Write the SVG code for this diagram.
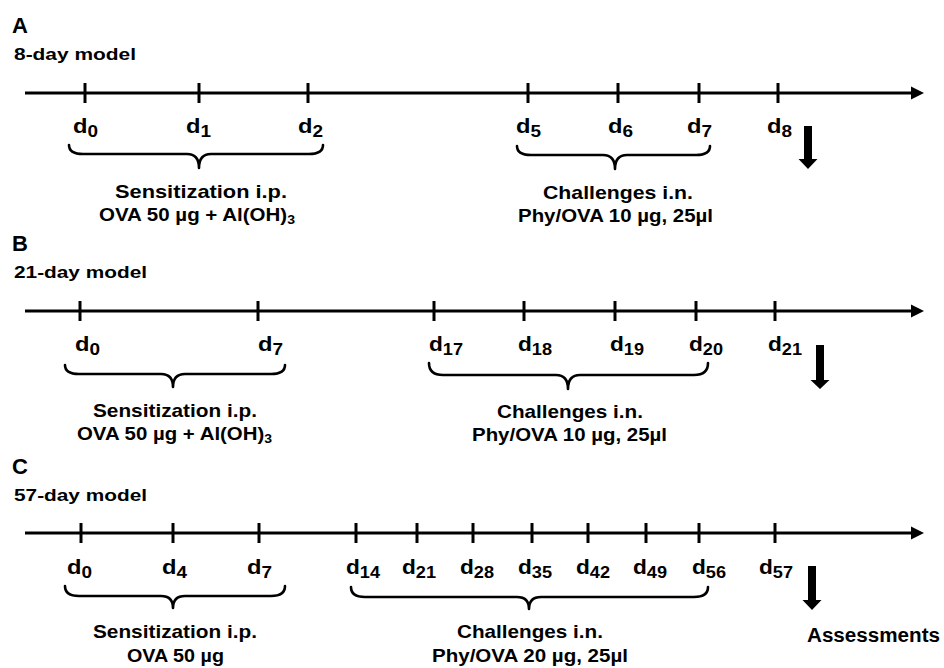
<svg xmlns="http://www.w3.org/2000/svg" width="944" height="668" viewBox="0 0 944 668">
<defs>
<style>
.t{font-family:"Liberation Sans",Arial,sans-serif;font-weight:bold;fill:#000}
.big{font-size:22px}
.ttl{font-size:17px}
.lbl{font-size:19px}
.asm{font-size:20px}
.d{font-size:20px}
.sub{font-size:16px}
.sub2{font-size:13px}
.axis{stroke:#000;stroke-width:3;fill:none}
.tick{stroke:#000;stroke-width:3}
.brace{stroke:#000;stroke-width:2.6;fill:none;stroke-linecap:round;stroke-linejoin:round}
.down{fill:#000}
</style>
<marker id="ah" markerUnits="userSpaceOnUse" markerWidth="14" markerHeight="14" refX="0" refY="7" orient="auto">
<path d="M0,0.5 L13,7 L0,13.5 z" fill="#000"/>
</marker>
</defs>
<rect width="944" height="668" fill="#fff"/>

<g id="connectors">
<line class="axis" x1="25" y1="93" x2="911" y2="93" marker-end="url(#ah)"/>
<line class="axis" x1="25" y1="311" x2="911" y2="311" marker-end="url(#ah)"/>
<line class="axis" x1="25" y1="533" x2="911" y2="533" marker-end="url(#ah)"/>
<g class="tick">
<line x1="85" y1="83" x2="85" y2="103"/><line x1="199" y1="83" x2="199" y2="103"/><line x1="308" y1="83" x2="308" y2="103"/>
<line x1="528" y1="83" x2="528" y2="103"/><line x1="618" y1="83" x2="618" y2="103"/><line x1="699" y1="83" x2="699" y2="103"/><line x1="778" y1="83" x2="778" y2="103"/>
<line x1="80" y1="301" x2="80" y2="321"/><line x1="258" y1="301" x2="258" y2="321"/><line x1="434" y1="301" x2="434" y2="321"/>
<line x1="524" y1="301" x2="524" y2="321"/><line x1="615" y1="301" x2="615" y2="321"/><line x1="696" y1="301" x2="696" y2="321"/><line x1="775" y1="301" x2="775" y2="321"/>
<line x1="81" y1="523" x2="81" y2="543"/><line x1="173" y1="523" x2="173" y2="543"/><line x1="259" y1="523" x2="259" y2="543"/>
<line x1="356" y1="523" x2="356" y2="543"/><line x1="417" y1="523" x2="417" y2="543"/><line x1="473" y1="523" x2="473" y2="543"/>
<line x1="532" y1="523" x2="532" y2="543"/><line x1="588" y1="523" x2="588" y2="543"/><line x1="646" y1="523" x2="646" y2="543"/>
<line x1="699" y1="523" x2="699" y2="543"/><line x1="775" y1="523" x2="775" y2="543"/>
</g>
<path class="brace" d="M69,145 Q69,154 83,154 L187,154 Q199,154 199,168 Q199,154 211,154 L309,154 Q323,154 323,145"/>
<path class="brace" d="M517,146 Q517,155 531,155 L603,155 Q615,155 615,169 Q615,155 627,155 L696,155 Q710,155 710,146"/>
<path class="brace" d="M65,365 Q65,374 79,374 L161,374 Q173,374 173,387 Q173,374 185,374 L271,374 Q285,374 285,365"/>
<path class="brace" d="M429,363 Q429,375 443,375 L556,375 Q568,375 568,389 Q568,375 580,375 L694,375 Q708,375 708,363"/>
<path class="brace" d="M65,586 Q65,596 79,596 L161,596 Q173,596 173,608 Q173,596 185,596 L271,596 Q285,596 285,586"/>
<path class="brace" d="M351,587 Q351,597 365,597 L517,597 Q529,597 529,609 Q529,597 541,597 L694,597 Q708,597 708,587"/>
<path class="down" d="M804,126 L812,126 L812,159 L817.5,159 L808,169 L798.5,159 L804,159 z"/>
<path class="down" d="M816,345 L824,345 L824,380 L829.5,380 L820,389 L810.5,380 L816,380 z"/>
<path class="down" d="M808,566 L816,566 L816,600 L821.5,600 L812,610 L802.5,600 L808,600 z"/>
</g>

<g id="panelA">
<text class="t big" x="12" y="33">A</text>
<text class="t ttl" x="14" y="60" textLength="122" lengthAdjust="spacingAndGlyphs">8-day model</text>
<g id="A-d0"><text class="t d" x="73" y="133" textLength="25" lengthAdjust="spacingAndGlyphs">d<tspan class="sub" dy="4">0</tspan></text></g>
<g id="A-d1"><text class="t d" x="186" y="133" textLength="25" lengthAdjust="spacingAndGlyphs">d<tspan class="sub" dy="4">1</tspan></text></g>
<g id="A-d2"><text class="t d" x="298" y="133" textLength="25" lengthAdjust="spacingAndGlyphs">d<tspan class="sub" dy="4">2</tspan></text></g>
<g id="A-d5"><text class="t d" x="516" y="133" textLength="25" lengthAdjust="spacingAndGlyphs">d<tspan class="sub" dy="4">5</tspan></text></g>
<g id="A-d6"><text class="t d" x="608" y="133" textLength="25" lengthAdjust="spacingAndGlyphs">d<tspan class="sub" dy="4">6</tspan></text></g>
<g id="A-d7"><text class="t d" x="687" y="133" textLength="25" lengthAdjust="spacingAndGlyphs">d<tspan class="sub" dy="4">7</tspan></text></g>
<g id="A-d8"><text class="t d" x="767" y="133" textLength="25" lengthAdjust="spacingAndGlyphs">d<tspan class="sub" dy="4">8</tspan></text></g>
<g id="A-sens">
<text class="t lbl" x="115" y="198" textLength="172" lengthAdjust="spacingAndGlyphs">Sensitization i.p.</text>
<text class="t lbl" x="99" y="221" textLength="196" lengthAdjust="spacingAndGlyphs">OVA 50 µg + Al(OH)<tspan class="sub2" dy="3">3</tspan></text>
</g>
<g id="A-chal">
<text class="t lbl" x="543" y="199" textLength="150" lengthAdjust="spacingAndGlyphs">Challenges i.n.</text>
<text class="t lbl" x="518" y="222" textLength="195" lengthAdjust="spacingAndGlyphs">Phy/OVA 10 µg, 25µl</text>
</g>
</g>

<g id="panelB">
<text class="t big" x="12" y="251">B</text>
<text class="t ttl" x="14" y="278" textLength="133" lengthAdjust="spacingAndGlyphs">21-day model</text>
<g id="B-d0"><text class="t d" x="75" y="351" textLength="25" lengthAdjust="spacingAndGlyphs">d<tspan class="sub" dy="4">0</tspan></text></g>
<g id="B-d7"><text class="t d" x="258" y="351" textLength="25" lengthAdjust="spacingAndGlyphs">d<tspan class="sub" dy="4">7</tspan></text></g>
<g id="B-d17"><text class="t d" x="429" y="351" textLength="34" lengthAdjust="spacingAndGlyphs">d<tspan class="sub" dy="4">17</tspan></text></g>
<g id="B-d18"><text class="t d" x="518" y="351" textLength="34" lengthAdjust="spacingAndGlyphs">d<tspan class="sub" dy="4">18</tspan></text></g>
<g id="B-d19"><text class="t d" x="610" y="351" textLength="34" lengthAdjust="spacingAndGlyphs">d<tspan class="sub" dy="4">19</tspan></text></g>
<g id="B-d20"><text class="t d" x="689" y="351" textLength="34" lengthAdjust="spacingAndGlyphs">d<tspan class="sub" dy="4">20</tspan></text></g>
<g id="B-d21"><text class="t d" x="768" y="351" textLength="34" lengthAdjust="spacingAndGlyphs">d<tspan class="sub" dy="4">21</tspan></text></g>
<g id="B-sens">
<text class="t lbl" x="93" y="417" textLength="164" lengthAdjust="spacingAndGlyphs">Sensitization i.p.</text>
<text class="t lbl" x="77" y="440" textLength="195" lengthAdjust="spacingAndGlyphs">OVA 50 µg + Al(OH)<tspan class="sub2" dy="3">3</tspan></text>
</g>
<g id="B-chal">
<text class="t lbl" x="497" y="418" textLength="146" lengthAdjust="spacingAndGlyphs">Challenges i.n.</text>
<text class="t lbl" x="472" y="441" textLength="195" lengthAdjust="spacingAndGlyphs">Phy/OVA 10 µg, 25µl</text>
</g>
</g>

<g id="panelC">
<text class="t big" x="12" y="474">C</text>
<text class="t ttl" x="14" y="501" textLength="133" lengthAdjust="spacingAndGlyphs">57-day model</text>
<g id="C-d0"><text class="t d" x="67" y="574" textLength="25" lengthAdjust="spacingAndGlyphs">d<tspan class="sub" dy="4">0</tspan></text></g>
<g id="C-d4"><text class="t d" x="162" y="574" textLength="25" lengthAdjust="spacingAndGlyphs">d<tspan class="sub" dy="4">4</tspan></text></g>
<g id="C-d7"><text class="t d" x="247" y="574" textLength="25" lengthAdjust="spacingAndGlyphs">d<tspan class="sub" dy="4">7</tspan></text></g>
<g id="C-d14"><text class="t d" x="346" y="574" textLength="34" lengthAdjust="spacingAndGlyphs">d<tspan class="sub" dy="4">14</tspan></text></g>
<g id="C-d21"><text class="t d" x="402" y="574" textLength="34" lengthAdjust="spacingAndGlyphs">d<tspan class="sub" dy="4">21</tspan></text></g>
<g id="C-d28"><text class="t d" x="460" y="574" textLength="34" lengthAdjust="spacingAndGlyphs">d<tspan class="sub" dy="4">28</tspan></text></g>
<g id="C-d35"><text class="t d" x="518" y="574" textLength="34" lengthAdjust="spacingAndGlyphs">d<tspan class="sub" dy="4">35</tspan></text></g>
<g id="C-d42"><text class="t d" x="576" y="574" textLength="34" lengthAdjust="spacingAndGlyphs">d<tspan class="sub" dy="4">42</tspan></text></g>
<g id="C-d49"><text class="t d" x="633" y="574" textLength="34" lengthAdjust="spacingAndGlyphs">d<tspan class="sub" dy="4">49</tspan></text></g>
<g id="C-d56"><text class="t d" x="692" y="574" textLength="34" lengthAdjust="spacingAndGlyphs">d<tspan class="sub" dy="4">56</tspan></text></g>
<g id="C-d57"><text class="t d" x="759" y="574" textLength="34" lengthAdjust="spacingAndGlyphs">d<tspan class="sub" dy="4">57</tspan></text></g>
<g id="C-sens">
<text class="t lbl" x="93" y="638" textLength="164" lengthAdjust="spacingAndGlyphs">Sensitization i.p.</text>
<text class="t lbl" x="127" y="662" textLength="97" lengthAdjust="spacingAndGlyphs">OVA 50 µg</text>
</g>
<g id="C-chal">
<text class="t lbl" x="457" y="638" textLength="146" lengthAdjust="spacingAndGlyphs">Challenges i.n.</text>
<text class="t lbl" x="432" y="662" textLength="196" lengthAdjust="spacingAndGlyphs">Phy/OVA 20 µg, 25µl</text>
</g>
<g id="assessments"><text class="t asm" x="807" y="642" textLength="133" lengthAdjust="spacingAndGlyphs">Assessments</text></g>
</g>
</svg>
